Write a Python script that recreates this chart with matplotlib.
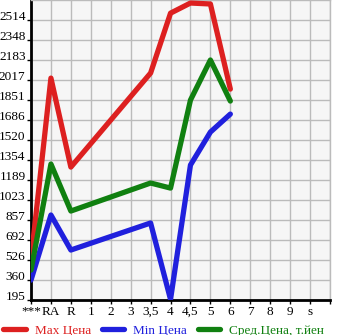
import numpy as np
import matplotlib.pyplot as plt
import matplotlib.transforms as mtransforms

plt.rcParams['font.family'] = ['Liberation Serif', 'DejaVu Serif']

labels = ['***', 'RA', 'R', '1', '2', '3', '3,5', '4', '4,5', '5', '6', '7', '8', '9', 's']
yticks = [195, 360, 526, 692, 857, 1023, 1189, 1354, 1520, 1686, 1851, 2017, 2183, 2348, 2514]

max_price = [526, 2033, 1296, None, None, None, 2075, 2571, 2655, 2647, 1942, None, None, None, None]
min_price = [360, 899, 609, None, None, None, 833, 200, 1313, 1586, 1735, None, None, None, None]
avg_price = [443, 1321, 932, None, None, None, 1164, 1122, 1851, 2183, 1843, None, None, None, None]

fig = plt.figure(figsize=(3.45, 3.35), dpi=100)
ax = fig.add_axes([31/345, 35/335, 299/345, 300/335])
ax.set_facecolor('#f6f6f6')

def pts(vals):
    xs = [i for i, v in enumerate(vals) if v is not None]
    ys = [v for v in vals if v is not None]
    return xs, ys

series = [(max_price, '#dd2020', 'Max Цена'),
          (min_price, '#2020dd', 'Min Цена'),
          (avg_price, '#108010', 'Сред.Цена, т.йен')]
for vals, col, name in series:
    xs, ys = pts(vals)
    ax.plot(xs, ys, color=col, linewidth=3.8, label=name, solid_capstyle='round', zorder=3)

ax.set_xlim(0, 15)
ax.set_ylim(195, 2680)
ax.set_xticks(range(16))
ax.set_xticklabels(labels + [''], fontsize=9.5)
ax.set_yticks(yticks)
ax.set_yticklabels([str(v) for v in yticks], fontsize=9.5)
ax.grid(color='#bbbbbb', linewidth=1)
ax.tick_params(axis='x', length=3, width=1, pad=1)
ax.tick_params(axis='y', length=3, width=1, pad=1)
shift = mtransforms.ScaledTranslation(0, 3/100, fig.dpi_scale_trans)
for t in ax.get_yticklabels():
    t.set_va('center')
    t.set_transform(t.get_transform() + shift)

for s in ['top', 'right']:
    ax.spines[s].set_color('#bbbbbb')
    ax.spines[s].set_linewidth(1)
ax.spines['left'].set_linewidth(2)
ax.spines['bottom'].set_linewidth(2)

leg = fig.legend(loc='lower left', bbox_to_anchor=(-0.025, -0.04), ncol=3, frameon=False,
                 fontsize=9.5, handlelength=1.7, columnspacing=0.8, handletextpad=0.7)
for t, (_, col, _) in zip(leg.get_texts(), series):
    t.set_color(col)

fig.savefig('out.png', dpi=100)
